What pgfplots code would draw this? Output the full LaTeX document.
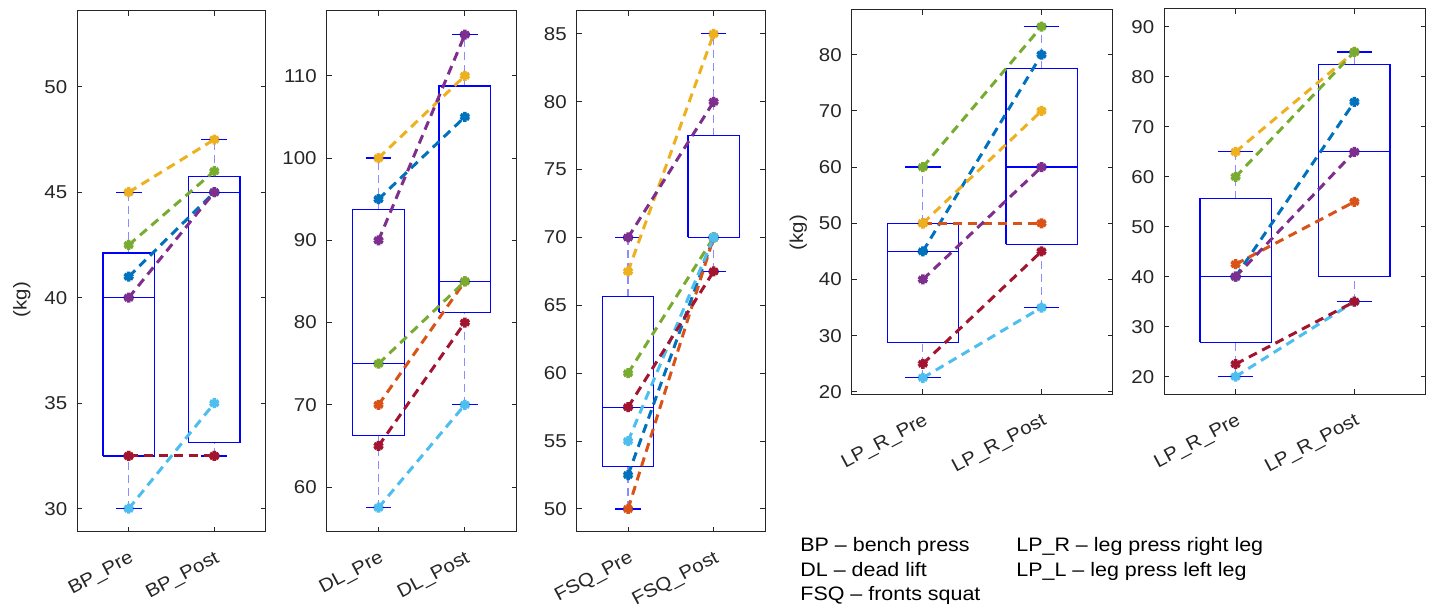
\documentclass[border=0pt]{standalone}
\usepackage{fontspec}
\setmainfont{Liberation Sans}[FakeStretch=1.1]
\usepackage{pgfplots}
\pgfplotsset{compat=1.18}

\definecolor{mBlue}{rgb}{0,0.447,0.741}
\definecolor{mOrange}{rgb}{0.85,0.325,0.098}
\definecolor{mYellow}{rgb}{0.929,0.694,0.125}
\definecolor{mPurple}{rgb}{0.494,0.184,0.556}
\definecolor{mGreen}{rgb}{0.466,0.674,0.188}
\definecolor{mLight}{rgb}{0.301,0.745,0.933}
\definecolor{mRed}{rgb}{0.635,0.078,0.184}
\definecolor{axgray}{rgb}{0.15,0.15,0.15}
\definecolor{boxblue}{rgb}{0,0,1}

\newcommand{\lblfont}{\fontsize{9.3}{11}\selectfont}
\newcommand{\notefont}{\fontsize{9.75}{11.5}\selectfont}

\pgfplotsset{
  panel/.style={
    scale only axis,
    anchor=south west,
    xmin=0.4, xmax=2.6,
    xtick={1,2},
    tick align=inside,
    tick pos=both,
    major tick length=2.5pt,
    axis line style={axgray, line width=0.5pt},
    every tick/.style={axgray, line width=0.5pt},
    tick label style={font=\lblfont, text=axgray},
    /pgf/number format/assume math mode=true,
    xticklabel style={yshift=-9pt, xshift=0pt, rotate=28, anchor=north east, inner sep=0pt},
    yticklabel style={xshift=-1.5pt},
    ylabel style={font=\lblfont, text=axgray},
    clip=false,
  },
  subj/.style={dash pattern=on 4.5pt off 3pt, line width=1.5pt,
    mark=asterisk, mark size=2.5pt, mark options={solid, line width=1.8pt}},
  whisk/.style={boxblue!45, line width=0.6pt, dash pattern=on 4pt off 2.5pt, mark=none},
  boxl/.style={boxblue, line width=0.6pt, solid, mark=none},
}

% box: position, lower whisker, lower quartile, median, upper quartile, upper whisker
\newcommand{\bx}[6]{%
  \pgfmathsetmacro{\bxL}{#1-0.3}\pgfmathsetmacro{\bxR}{#1+0.3}%
  \pgfmathsetmacro{\cpL}{#1-0.15}\pgfmathsetmacro{\cpR}{#1+0.15}%
  \addplot[whisk] coordinates {(#1,#2) (#1,#3)};
  \addplot[whisk] coordinates {(#1,#5) (#1,#6)};
  \addplot[boxl] coordinates {(\cpL,#2) (\cpR,#2)};
  \addplot[boxl] coordinates {(\cpL,#6) (\cpR,#6)};
  \addplot[boxl] coordinates {(\bxL,#3) (\bxR,#3) (\bxR,#5) (\bxL,#5) (\bxL,#3)};
  \addplot[boxl] coordinates {(\bxL,#4) (\bxR,#4)};
}
% one dashed pre/post line per subject
\newcommand{\pair}[3]{\addplot[subj, #1] coordinates {(1,#2) (2,#3)};}

\begin{document}
\begin{tikzpicture}
\path[use as bounding box] (0,0) rectangle (716pt,303.5pt);

% bench press
\begin{axis}[panel, at={(38.65pt,37.75pt)}, width=94.2pt, height=260.35pt,
  ymin=28.92, ymax=53.6, ytick={30,35,40,45,50},
  xticklabels={BP\_Pre, BP\_Post},
  ylabel={(kg)}, ylabel style={at={([xshift=-27.8pt]rel axis cs:0,0.445)}, anchor=center}]
\bx{1}{30}{32.5}{40}{42.125}{45}
\bx{2}{32.5}{33.125}{45}{45.75}{47.5}
\pair{mBlue}{41}{45}
\pair{mOrange}{32.5}{32.5}
\pair{mYellow}{45}{47.5}
\pair{mPurple}{40}{45}
\pair{mGreen}{42.5}{46}
\pair{mLight}{30}{35}
\pair{mRed}{32.5}{32.5}
\end{axis}

% dead lift
\begin{axis}[panel, at={(163.35pt,37.75pt)}, width=95pt, height=260.35pt,
  ymin=54.6, ymax=117.9, ytick={60,70,80,90,100,110},
  xticklabels={DL\_Pre, DL\_Post}]
\bx{1}{57.5}{66.25}{75}{93.75}{100}
\bx{2}{70}{81.25}{85}{108.75}{115}
\pair{mBlue}{95}{105}
\pair{mOrange}{70}{85}
\pair{mYellow}{100}{110}
\pair{mPurple}{90}{115}
\pair{mGreen}{75}{85}
\pair{mLight}{57.5}{70}
\pair{mRed}{65}{80}
\end{axis}

% fronts squat
\begin{axis}[panel, at={(288.35pt,37.75pt)}, width=94.15pt, height=260.35pt,
  ymin=48.34, ymax=86.7, ytick={50,55,60,65,70,75,80,85},
  xticklabels={FSQ\_Pre, FSQ\_Post}]
\bx{1}{50}{53.125}{57.5}{65.625}{70}
\bx{2}{67.5}{70}{70}{77.5}{85}
\pair{mBlue}{52.5}{70}
\pair{mOrange}{50}{70}
\pair{mYellow}{67.5}{85}
\pair{mPurple}{70}{80}
\pair{mGreen}{60}{70}
\pair{mLight}{55}{70}
\pair{mRed}{57.5}{67.5}
\end{axis}

% leg press right
\begin{axis}[panel, at={(425.85pt,106.45pt)}, width=130.5pt, height=192.2pt,
  ymin=19.6, ymax=88, ytick={20,30,40,50,60,70,80},
  xticklabels={LP\_R\_Pre, LP\_R\_Post},
  ylabel={(kg)}, ylabel style={at={([xshift=-26.7pt]rel axis cs:0,0.42)}, anchor=center}]
\bx{1}{22.5}{28.75}{45}{50}{60}
\bx{2}{35}{46.25}{60}{77.5}{85}
\pair{mBlue}{45}{80}
\pair{mOrange}{50}{50}
\pair{mYellow}{50}{70}
\pair{mPurple}{40}{60}
\pair{mGreen}{60}{85}
\pair{mLight}{22.5}{35}
\pair{mRed}{25}{45}
\end{axis}

% leg press left
\begin{axis}[panel, at={(582.15pt,106.45pt)}, width=130.7pt, height=192.8pt,
  ymin=16.5, ymax=93.7, ytick={20,30,40,50,60,70,80,90},
  xticklabels={LP\_R\_Pre, LP\_R\_Post}]
\bx{1}{20}{26.875}{40}{55.625}{65}
\bx{2}{35}{40}{65}{82.5}{85}
\pair{mBlue}{40}{75}
\pair{mOrange}{42.5}{55}
\pair{mYellow}{65}{85}
\pair{mPurple}{40}{65}
\pair{mGreen}{60}{85}
\pair{mLight}{20}{35}
\pair{mRed}{22.5}{35}
\end{axis}

% abbreviations
\begin{scope}[every node/.style={anchor=base west, font=\notefont, inner sep=0pt}]
\node at (400pt,27.65pt) {BP – bench press};
\node at (400pt,15.4pt) {DL – dead lift};
\node at (400pt,3.15pt) {FSQ – fronts squat};
\node at (508pt,27.65pt) {LP\_R – leg press right leg};
\node at (508pt,15.4pt) {LP\_L – leg press left leg};
\end{scope}
\end{tikzpicture}
\end{document}
